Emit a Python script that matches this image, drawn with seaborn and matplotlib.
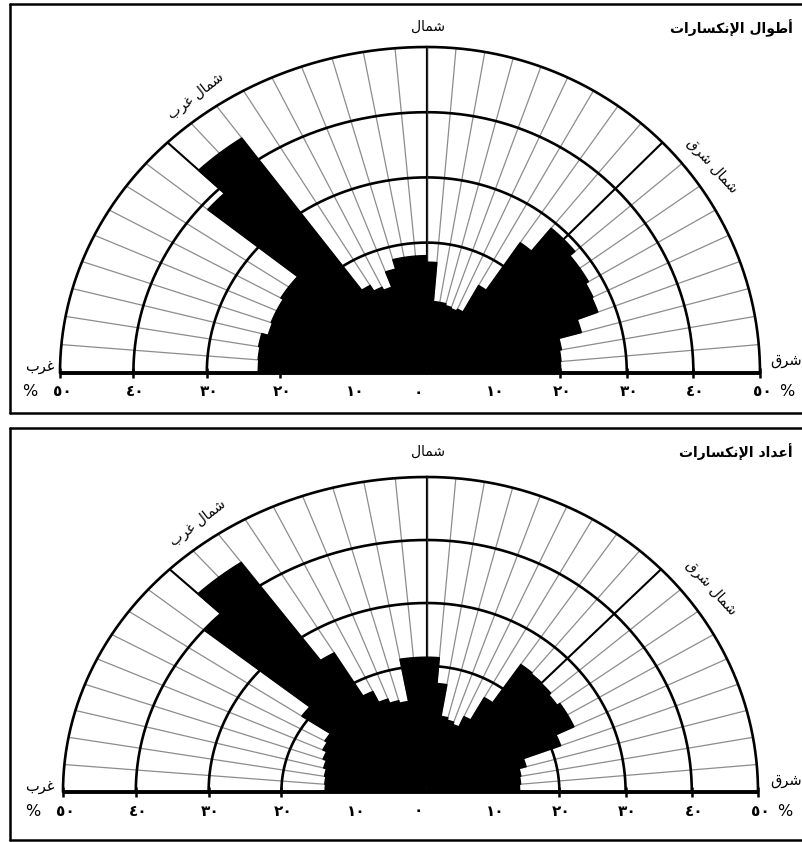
import numpy as np
import matplotlib
matplotlib.use("Agg")
import matplotlib.pyplot as plt
import seaborn as sns

sns.set_style("white")
plt.rcParams["font.family"] = ["DejaVu Sans"]
plt.rcParams["text.color"] = "black"

# Direction classes: start azimuth of each 5-degree class (degrees, clockwise from north)
class_start = [-90, -85, -80, -75, -70, -65, -60, -55, -50, -45, -40, -35,
               -30, -25, -20, -15, -10, -5, 0, 5, 10, 15, 20, 25,
               30, 35, 40, 45, 50, 55, 60, 65, 70, 75, 80, 85]

# Share of total fracture length in each class (%)
length_pct = [23, 23.1, 23.3, 22.4, 22.6, 22.6, 23, 23, 39, 44, 44, 15.5,
              14.5, 14, 16.5, 18, 18, 18, 17, 11, 11, 10.7, 10.5, 10.8,
              15.5, 24.4, 29, 29, 28, 28, 27.5, 27.3, 24, 20.5, 20.2, 20]

# Share of fracture count in each class (%)
count_pct = [14, 14.1, 14.3, 14.7, 15.2, 15.8, 16.2, 21, 40, 44.5, 44.5, 25.5,
             17.6, 15.7, 15, 14.6, 21.4, 21.4, 21.4, 17.3, 12.2, 11.8, 11.4, 13.2,
             17.3, 24.7, 24.5, 24.4, 24, 24.5, 24.5, 21.5, 15.5, 14.4, 14.2, 14]

ring_values = [20, 30, 40, 50]
scale_values = [10, 20, 30, 40, 50]
scale_labels = ["١٠", "٢٠", "٣٠", "٤٠", "٥٠"]
zero_label = "٠"

titles = ["أطوال الإنكسارات", "أعداد الإنكسارات"]
north, north_west, north_east = "شمال", "شمال غرب", "شمال شرق"
west, east = "غرب", "شرق"

# ---- minimal Arabic shaping (contextual forms + visual order) ----
_FORMS = {
    "ا": ("\uFE8D", "\uFE8E", None, None),
    "أ": ("\uFE83", "\uFE84", None, None),
    "إ": ("\uFE87", "\uFE88", None, None),
    "ب": ("\uFE8F", "\uFE90", "\uFE91", "\uFE92"),
    "ت": ("\uFE95", "\uFE96", "\uFE97", "\uFE98"),
    "د": ("\uFEA9", "\uFEAA", None, None),
    "ر": ("\uFEAD", "\uFEAE", None, None),
    "س": ("\uFEB1", "\uFEB2", "\uFEB3", "\uFEB4"),
    "ش": ("\uFEB5", "\uFEB6", "\uFEB7", "\uFEB8"),
    "ط": ("\uFEC1", "\uFEC2", "\uFEC3", "\uFEC4"),
    "ع": ("\uFEC9", "\uFECA", "\uFECB", "\uFECC"),
    "غ": ("\uFECD", "\uFECE", "\uFECF", "\uFED0"),
    "ق": ("\uFED5", "\uFED6", "\uFED7", "\uFED8"),
    "ك": ("\uFED9", "\uFEDA", "\uFEDB", "\uFEDC"),
    "ل": ("\uFEDD", "\uFEDE", "\uFEDF", "\uFEE0"),
    "م": ("\uFEE1", "\uFEE2", "\uFEE3", "\uFEE4"),
    "ن": ("\uFEE5", "\uFEE6", "\uFEE7", "\uFEE8"),
    "و": ("\uFEED", "\uFEEE", None, None),
}
_LAM_ALEF = {"ا": ("\uFEFB", "\uFEFC"), "أ": ("\uFEF7", "\uFEF8"), "إ": ("\uFEF9", "\uFEFA")}


def ar(text):
    glyphs, link, i = [], False, 0
    while i < len(text):
        c = text[i]
        nxt = text[i + 1] if i + 1 < len(text) else ""
        if c == "ل" and nxt in _LAM_ALEF:
            glyphs.append(_LAM_ALEF[nxt][1 if link else 0])
            link, i = False, i + 2
            continue
        if c not in _FORMS:
            glyphs.append(c)
            link, i = False, i + 1
            continue
        iso, fin, ini, med = _FORMS[c]
        to_next = ini is not None and nxt in _FORMS
        if link and to_next:
            g = med
        elif link:
            g = fin
        elif to_next:
            g = ini
        else:
            g = iso
        glyphs.append(g)
        link = ini is not None
        i += 1
    return "".join(reversed(glyphs))


W, H = 803, 842
fig = plt.figure(figsize=(W / 100, H / 100), dpi=100)


def fx(x):
    return x / W


def fy(y):
    return 1 - y / H


def quarter_rose(values, side, x_outer, x_center, top, base):
    """One quadrant (side=-1 west, +1 east) of the half rose."""
    x_lo, x_hi = sorted((x_outer, x_center))
    ax = fig.add_axes([fx(x_lo), fy(base), (x_hi - x_lo) / W, (base - top) / H],
                      projection="polar")
    ax.set_theta_zero_location("N")
    ax.set_theta_direction(-1)
    if side < 0:
        ax.set_thetamin(-90)
        ax.set_thetamax(0)
    else:
        ax.set_thetamin(0)
        ax.set_thetamax(90)
    ax.set_ylim(0, 50)
    ax.set_aspect("auto")
    ax.grid(False)
    ax.set_xticks([])
    ax.set_yticks([])
    for sp in ax.spines.values():
        sp.set_visible(False)
    ax.patch.set_alpha(0)

    # stretch the axes so that the quadrant fills the requested pixel box
    inv = ax.transAxes.inverted()
    po = inv.transform(ax.transData.transform((side * np.pi / 2, 50)))
    pt = inv.transform(ax.transData.transform((0, 50)))
    pc = inv.transform(ax.transData.transform((0, 0)))
    aw = (x_outer - x_center) / (po[0] - pc[0])
    ah = (base - top) / (pt[1] - pc[1])
    x0 = x_center - pc[0] * aw
    y0 = (H - base) - pc[1] * ah
    ax.set_position([x0 / W, y0 / H, aw / W, ah / H])

    # radial grid: thin every 5 degrees, heavy at N and the diagonal
    for deg in range(0, 90, 5):
        a = np.deg2rad(side * deg)
        heavy = deg % 45 == 0
        ax.plot([a, a], [0, 50], color="black" if heavy else "#8c8c8c",
                lw=1.5 if heavy else 0.9, zorder=1, solid_capstyle="butt",
                clip_on=False)

    arc = np.linspace(0, side * np.pi / 2, 300)
    for r in ring_values:
        ax.plot(arc, np.full_like(arc, r), color="black", lw=1.9, zorder=2,
                clip_on=False)

    starts = np.array(class_start, dtype=float)
    vals = np.array(values, dtype=float)
    keep = starts < 0 if side < 0 else starts >= 0
    ax.bar(np.deg2rad(starts[keep]), vals[keep], width=np.deg2rad(5), align="edge",
           color="black", edgecolor="black", linewidth=1.0, zorder=3, clip_on=False)

    # base line with scale ticks and labels
    a = side * np.pi / 2
    ax.plot([a, a], [0, 50], color="black", lw=2.8, zorder=4, clip_on=False,
            solid_capstyle="butt")
    for r in ring_values:
        ax.plot([a], [r], marker="|", ms=7, mew=1.8, color="black", zorder=4,
                clip_on=False)
    for v, lab in zip(scale_values, scale_labels):
        ax.annotate(lab, xy=(a, v), xytext=(2, -19), textcoords="offset pixels",
                    ha="center", va="center", fontsize=11, fontweight="bold",
                    annotation_clip=False)
    ax.annotate("%", xy=(a, 50), xytext=(-30 if side < 0 else 27, -19),
                textcoords="offset pixels", ha="center", va="center",
                fontsize=11.5, annotation_clip=False)
    if side < 0:
        ax.annotate(zero_label, xy=(0, 0), xytext=(-9, -19), textcoords="offset pixels",
                    ha="center", va="center", fontsize=11, fontweight="bold",
                    annotation_clip=False)
    return ax


# pixel geometry of each rose: west end, centre, east end, top, base line
geometry = [(60, 427, 760, 47, 373), (63, 427, 758, 477, 792)]
frames = [(4, 413), (428, 840)]
series = [length_pct, count_pct]
label_rows = [
    dict(title=28, north=27, nw=(196, 96), ne=(712, 166), west=366, east=361),
    dict(title=452, north=452, nw=(198, 523), ne=(711, 588), west=786, east=780),
]

for k in range(2):
    x_w, x_c, x_e, top, base = geometry[k]
    quarter_rose(series[k], -1, x_w, x_c, top, base)
    quarter_rose(series[k], 1, x_e, x_c, top, base)

    f_top, f_bottom = frames[k]
    fig.add_artist(plt.Line2D([fx(10), fx(10)], [fy(f_top), fy(f_bottom)], color="black", lw=1.8))
    fig.add_artist(plt.Line2D([fx(10), fx(803)], [fy(f_top), fy(f_top)], color="black", lw=1.8))
    fig.add_artist(plt.Line2D([fx(10), fx(803)], [fy(f_bottom), fy(f_bottom)], color="black", lw=1.8))

    L = label_rows[k]
    fig.text(fx(793), fy(L["title"]), ar(titles[k]), ha="right", va="center",
             fontsize=10, fontweight="bold")
    fig.text(fx(428), fy(L["north"]), ar(north), ha="center", va="center", fontsize=10)
    fig.text(fx(L["nw"][0]), fy(L["nw"][1]), ar(north_west), ha="center", va="center",
             fontsize=10, rotation=38, rotation_mode="anchor")
    fig.text(fx(L["ne"][0]), fy(L["ne"][1]), ar(north_east), ha="center", va="center",
             fontsize=10, rotation=-48, rotation_mode="anchor")
    fig.text(fx(40), fy(L["west"]), ar(west), ha="center", va="center", fontsize=10.5)
    fig.text(fx(786), fy(L["east"]), ar(east), ha="center", va="center", fontsize=10.5)

fig.savefig("out.png", dpi=100)
